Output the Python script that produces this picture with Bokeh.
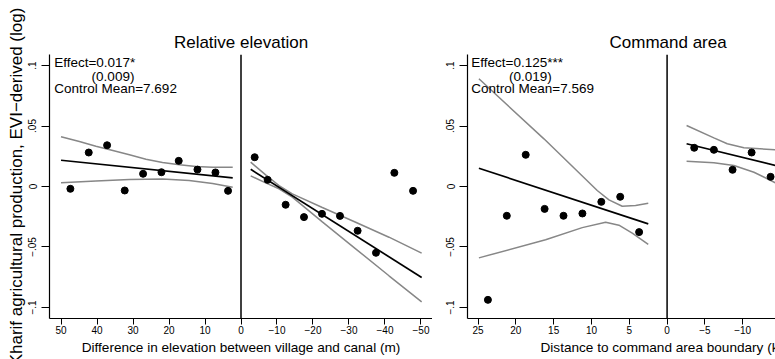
import math
from bokeh.plotting import figure
from bokeh.layouts import row
from bokeh.models import Range1d, FixedTicker, Span, Label, Title
from bokeh.embed import file_html
from bokeh.resources import INLINE

FONT = "Liberation Sans"

# ---------------- data ----------------
y_ticks = [-0.1, -0.05, 0.0, 0.05, 0.1]
y_tick_labels = ["−.1", "−.05", "0", ".05", ".1"]

rel_x_ticks = [50, 40, 30, 20, 10, 0, -10, -20, -30, -40, -50]
rel_x_tick_labels = ["50", "40", "30", "20", "10", "0", "−10", "−20", "−30", "−40", "−50"]
cmd_x_ticks = [25, 20, 15, 10, 5, 0, -5, -10, -15]
cmd_x_tick_labels = ["25", "20", "15", "10", "5", "0", "−5", "−10", "−15"]

# Relative elevation panel
rel_bin_x_above = [47.4, 42.3, 37.2, 32.3, 27.2, 22.1, 17.3, 12.1, 7.1, 3.6]
rel_bin_y_above = [-0.0019, 0.0281, 0.0341, -0.0033, 0.0105, 0.0118, 0.0212, 0.0140, 0.0116, -0.0036]
rel_bin_x_below = [-3.8, -7.4, -12.4, -17.5, -22.5, -27.5, -32.4, -37.5, -42.6, -47.8]
rel_bin_y_below = [0.0242, 0.0055, -0.0151, -0.0253, -0.0226, -0.0243, -0.0366, -0.0548, 0.0113, -0.0036]

rel_fit_above_x = [50.0, 2.3]
rel_fit_above_y = [0.0217, 0.0072]
rel_ciu_above_x = [50.0, 44.9, 40.3, 35.6, 31.0, 26.4, 21.8, 17.1, 12.5, 7.9, 2.3]
rel_ciu_above_y = [0.0411, 0.0372, 0.0333, 0.0298, 0.0262, 0.0226, 0.0198, 0.0179, 0.0165, 0.0160, 0.0160]
rel_cil_above_x = [50.0, 40.3, 31.0, 21.8, 14.4, 7.9, 2.3]
rel_cil_above_y = [0.0030, 0.0045, 0.0058, 0.0062, 0.0050, 0.0024, -0.0006]

rel_fit_below_x = [-2.7, -50.2]
rel_fit_below_y = [0.0142, -0.0752]
rel_ciu_below_x = [-2.69, -6.85, -10.56, -14.26, -22.59, -31.85, -41.11, -50.19]
rel_ciu_below_y = [0.0201, 0.0096, 0.0008, -0.0061, -0.0174, -0.0295, -0.0419, -0.0551]
rel_cil_below_x = [-2.69, -6.85, -10.56, -14.26, -22.59, -31.85, -41.11, -50.19]
rel_cil_below_y = [0.0088, 0.0030, -0.0019, -0.0088, -0.0292, -0.0515, -0.0738, -0.0953]

# Command area panel
cmd_bin_x_above = [23.7, 21.2, 18.7, 16.2, 13.7, 11.2, 8.7, 6.2, 3.7]
cmd_bin_y_above = [-0.0937, -0.0242, 0.0262, -0.0185, -0.0242, -0.0223, -0.0127, -0.0085, -0.0377]
cmd_fit_above_x = [24.89, 2.49]
cmd_fit_above_y = [0.0151, -0.0309]
cmd_ciu_above_x = [24.89, 16.29, 9.24, 7.69, 5.93, 4.17, 2.49]
cmd_ciu_above_y = [0.0890, 0.0394, -0.0033, -0.0110, -0.0163, -0.0157, -0.0138]
cmd_cil_above_x = [24.89, 16.07, 11.22, 8.13, 6.37, 4.61, 2.49]
cmd_cil_above_y = [-0.0590, -0.0440, -0.0340, -0.0295, -0.0320, -0.0386, -0.0479]

cmd_bin_x_below = [-3.59, -6.19, -8.66, -11.18, -13.69]
cmd_bin_y_below = [0.0320, 0.0303, 0.0138, 0.0281, 0.0080]
cmd_fit_below_x = [-2.58, -14.35]
cmd_fit_below_y = [0.0353, 0.0174]
cmd_ciu_below_x = [-2.58, -6.19, -7.96, -10.16, -14.35]
cmd_ciu_below_y = [0.0504, 0.0402, 0.0353, 0.0320, 0.0303]
cmd_cil_below_x = [-2.58, -6.19, -8.84, -11.49, -14.35]
cmd_cil_below_y = [0.0209, 0.0197, 0.0174, 0.0118, 0.0030]

titles = ["Relative elevation", "Command area"]
x_titles = ["Difference in elevation between village and canal (m)",
            "Distance to command area boundary (km)"]
y_title = "Kharif agricultural production, EVI−derived (log)"
effects = ["Effect=0.017*", "Effect=0.125***"]
ses = ["(0.009)", "(0.019)"]
control_means = ["Control Mean=7.692", "Control Mean=7.569"]

# ---------------- styling ----------------
GRAY = "#878787"
Y_RANGE = (-0.1091, 0.1091)


def make_panel(width, border_left, x_start, x_end, xticks, xlabels):
    p = figure(width=width, height=359, x_range=Range1d(x_start, x_end),
               y_range=Range1d(*Y_RANGE), output_backend="svg",
               toolbar_location=None, title=None,
               min_border_left=border_left, min_border_right=0,
               min_border_top=54, min_border_bottom=41)
    p.outline_line_color = None
    p.xgrid.visible = False
    p.ygrid.visible = False
    p.background_fill_color = "white"
    p.border_fill_color = "white"

    p.xaxis.ticker = FixedTicker(ticks=xticks)
    p.xaxis.major_label_overrides = dict(zip(xticks, xlabels))
    p.yaxis.ticker = FixedTicker(ticks=y_ticks)
    p.yaxis.major_label_overrides = dict(zip(y_ticks, y_tick_labels))
    p.yaxis.major_label_orientation = "vertical"
    for ax in (p.xaxis, p.yaxis):
        ax.axis_line_color = "black"
        ax.axis_line_width = 1.2
        ax.major_tick_line_color = "black"
        ax.major_tick_line_width = 1
        ax.major_tick_in = 0
        ax.minor_tick_line_color = None
        ax.major_label_text_font = FONT
        ax.major_label_text_font_size = "10px"
        ax.major_label_text_color = "black"
    p.xaxis.major_tick_out = 6
    p.xaxis.major_label_standoff = 1
    p.yaxis.major_tick_out = 8
    p.yaxis.major_label_standoff = 5

    p.add_layout(Span(location=0, dimension="height", line_color="black", line_width=1.5))
    return p


def add_series(p, bx, by, fx, fy, ux, uy, lx, ly):
    p.line(ux, uy, line_color=GRAY, line_width=1.5)
    p.line(lx, ly, line_color=GRAY, line_width=1.5)
    p.line(fx, fy, line_color="black", line_width=1.7)
    p.scatter(bx, by, size=7, color="black")


def add_text(p, x, y, text, size):
    p.add_layout(Label(x=x, y=y, x_units="data", y_units="data", text=text,
                       text_font=FONT, text_font_size=size, text_color="black",
                       text_align="left", text_baseline="middle"))


def add_title(p, text, side, size, align="center", offset=0, standoff=0, valign="bottom"):
    p.add_layout(Title(text=text, align=align, offset=offset, standoff=standoff,
                       vertical_align=valign, text_font=FONT, text_font_size=size,
                       text_font_style="normal", text_color="black"), side)


# ---- left panel ----
p1 = make_panel(432, 49, 53.2, -53.2, rel_x_ticks, rel_x_tick_labels)
add_series(p1, rel_bin_x_above, rel_bin_y_above, rel_fit_above_x, rel_fit_above_y,
           rel_ciu_above_x, rel_ciu_above_y, rel_cil_above_x, rel_cil_above_y)
add_series(p1, rel_bin_x_below, rel_bin_y_below, rel_fit_below_x, rel_fit_below_y,
           rel_ciu_below_x, rel_ciu_below_y, rel_cil_below_x, rel_cil_below_y)
add_text(p1, 51.9, 0.1025, effects[0], "13.5px")
add_text(p1, 41.5, 0.0909, ses[0], "13.5px")
add_text(p1, 51.9, 0.0806, control_means[0], "13.5px")
add_title(p1, titles[0], "above", "17px", "center", 0, 6, "bottom")
add_title(p1, x_titles[0], "below", "13.6px", "center", 0, 6, "top")
p1.yaxis.axis_label = y_title
p1.yaxis.axis_label_standoff = 0
p1.yaxis.axis_label_text_font = FONT
p1.yaxis.axis_label_text_font_size = "17px"
p1.yaxis.axis_label_text_font_style = "normal"
p1.yaxis.axis_label_text_color = "black"

# ---- right panel ----
p2 = make_panel(343, 35, 26.4, -14.34, cmd_x_ticks, cmd_x_tick_labels)
add_series(p2, cmd_bin_x_above, cmd_bin_y_above, cmd_fit_above_x, cmd_fit_above_y,
           cmd_ciu_above_x, cmd_ciu_above_y, cmd_cil_above_x, cmd_cil_above_y)
add_series(p2, cmd_bin_x_below, cmd_bin_y_below, cmd_fit_below_x, cmd_fit_below_y,
           cmd_ciu_below_x, cmd_ciu_below_y, cmd_cil_below_x, cmd_cil_below_y)
add_text(p2, 25.9, 0.1025, effects[1], "13.5px")
add_text(p2, 20.9, 0.0909, ses[1], "13.5px")
add_text(p2, 25.9, 0.0806, control_means[1], "13.5px")
add_title(p2, titles[1], "above", "17px", "left", 142, 6, "bottom")
add_title(p2, x_titles[1], "below", "13.6px", "left", 73, 6, "top")

layout = row(p1, p2, spacing=0)
open("out.html", "w").write(file_html(layout, INLINE))
